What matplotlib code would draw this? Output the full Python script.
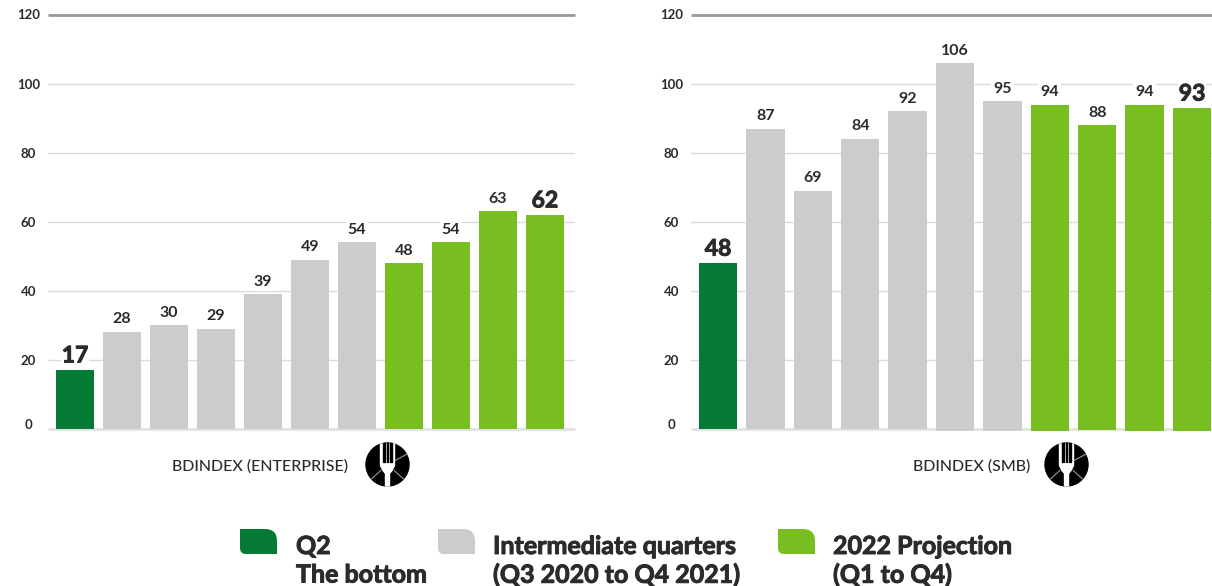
import numpy as np
import matplotlib
matplotlib.use('Agg')
import matplotlib.pyplot as plt
import matplotlib.patheffects as pe
from matplotlib.patches import Circle, PathPatch, Polygon, Rectangle
from matplotlib.path import Path
from matplotlib.transforms import ScaledTranslation

W, H = 1212, 586
GREEN_DARK = '#047a34'
GREY = '#cccccc'
GREEN = '#78be20'
TEXT = '#2b2b2b'

enterprise = [17, 28, 30, 29, 39, 49, 54, 48, 54, 63, 62]
smb = [48, 87, 69, 84, 92, 106, 95, 94, 88, 94, 93]
bar_colors = [GREEN_DARK] + [GREY] * 6 + [GREEN] * 4
yticks = [0, 20, 40, 60, 80, 100, 120]
legend_titles = ['Q2', 'Intermediate quarters', '2022 Projection']
legend_subs = ['The bottom', '(Q3 2020 to Q4 2021)', '(Q1 to Q4)']
legend_colors = [GREEN_DARK, GREY, GREEN]

plt.rcParams['font.family'] = ['Lato', 'DejaVu Sans']

# thickens the heavy text a little beyond Lato bold
HEAVY = [pe.withStroke(linewidth=0.7, foreground=TEXT)]


def px_axes(fig, left, right, top, bottom):
    return fig.add_axes([left / W, 1 - bottom / H, (right - left) / W, (bottom - top) / H])


def draw_panel(ax, values, xlim, base=None):
    ax.set_xlim(*xlim)
    ax.set_ylim(0, 120)
    for t in yticks[1:-1]:
        ax.axhline(t, color='#dcdcdc', lw=1, zorder=1)
    ax.axhline(120, color='#999999', lw=2, zorder=1, clip_on=False, solid_capstyle='butt')
    ax.axhline(0, color='#e2e2e2', lw=2, zorder=1, clip_on=False, solid_capstyle='butt')
    x = np.arange(len(values))
    vals = np.array(values, dtype=float)
    bottoms = np.zeros(len(values)) if base is None else np.array(base)
    ax.bar(x, vals - bottoms, bottom=bottoms, width=0.81, color=bar_colors, zorder=2, clip_on=False)
    last = len(values) - 1
    for i, v in enumerate(values):
        big = i == 0 or i == last
        t = ax.annotate(str(v), (i, v), xytext=(0, 2.5 if big else 4), textcoords='offset points',
                        ha='center', va='bottom', color=TEXT,
                        fontsize=16.5 if big else 11.5, fontweight='bold',
                        bbox=dict(facecolor='white', edgecolor='none', pad=0.5 if big else 1.5), zorder=3)
        if big:
            t.set_path_effects(HEAVY)
    for spine in ax.spines.values():
        spine.set_visible(False)
    ax.set_xticks([])
    ax.set_yticks(yticks)
    ax.tick_params(axis='y', length=0, pad=14)
    for lab, t in zip(ax.get_yticklabels(), yticks):
        lab.set_fontsize(9.5)
        lab.set_fontweight('bold')
        lab.set_color(TEXT)
        lab.set_ha('center')
        # end labels sit slightly above their lines
        shift = {0: 3.0, 120: 1.0}.get(t, 0)
        lab.set_transform(lab.get_transform() + ScaledTranslation(0, shift / 72, ax.figure.dpi_scale_trans))


# round black badge with a white fork
def draw_badge(ov, cx, cy, r=21.5):
    ov.add_patch(Circle((cx, cy), r, color='black', zorder=5))
    for ang in [28, 222, 318]:
        a = np.radians(ang)
        ov.plot([cx + 9 * np.cos(a), cx + r * np.cos(a)], [cy - 9 * np.sin(a), cy - r * np.sin(a)],
                color='#999999', lw=0.8, zorder=6)
    head = [(cx - 7, cy - r + 1), (cx + 7, cy - r + 1), (cx + 7, cy + 1), (cx + 4.5, cy + 6),
            (cx + 2, cy + 9), (cx + 2, cy + r), (cx - 2, cy + r), (cx - 2, cy + 9),
            (cx - 4.5, cy + 6), (cx - 7, cy + 1)]
    ov.add_patch(Polygon(head, closed=True, color='white', zorder=6))
    for dx in [-3.5, 0, 3.5]:
        ov.add_patch(Rectangle((cx + dx - 0.7, cy - r), 1.4, r - 3, color='black', zorder=7))


# swatch with two opposite rounded corners
def draw_swatch(ov, x, y, color, w=37, h=25):
    r1, r2 = 12, 6
    verts = [(x, y), (x + w - r1, y), (x + w, y), (x + w, y + r1), (x + w, y + h),
             (x + r2, y + h), (x, y + h), (x, y + h - r2), (x, y)]
    codes = [Path.MOVETO, Path.LINETO, Path.CURVE3, Path.CURVE3, Path.LINETO,
             Path.LINETO, Path.CURVE3, Path.CURVE3, Path.CLOSEPOLY]
    ov.add_patch(PathPatch(Path(verts, codes), facecolor=color, edgecolor='none'))


fig = plt.figure(figsize=(W / 100, H / 100), dpi=100)

ax1 = px_axes(fig, 48, 575, 15, 428.5)
ax2 = px_axes(fig, 691, 1212, 15, 428.5)
draw_panel(ax1, enterprise, (-0.574, 10.64))
# the later SMB bars run a touch past the baseline
draw_panel(ax2, smb, (-0.57, 10.42), base=[0, 0, 0, 0, 0, -0.8, -0.8, -0.8, -0.5, -0.8, -0.8])

# full-figure layer in pixel units for captions, badges and legend
ov = fig.add_axes([0, 0, 1, 1], zorder=10)
ov.set_xlim(0, W)
ov.set_ylim(H, 0)
ov.axis('off')

ov.text(348, 466, 'BDINDEX (ENTERPRISE)', ha='right', va='center', fontsize=11.5,
        fontweight='medium', color=TEXT)
ov.text(1030, 466, 'BDINDEX (SMB)', ha='right', va='center', fontsize=11.5,
        fontweight='medium', color=TEXT)
draw_badge(ov, 387.5, 464.5)
draw_badge(ov, 1066.5, 464.5)

swatch_x = [240, 438, 778]
text_x = [296, 493, 833]
for sx, tx, title, sub, col in zip(swatch_x, text_x, legend_titles, legend_subs, legend_colors):
    draw_swatch(ov, sx, 529, col)
    for yy, s in [(546.5, title), (575, sub)]:
        ov.text(tx, yy, s, va='center', ha='left', fontsize=18, fontweight='bold', color=TEXT,
                path_effects=HEAVY)

fig.savefig('out.png', dpi=100)
